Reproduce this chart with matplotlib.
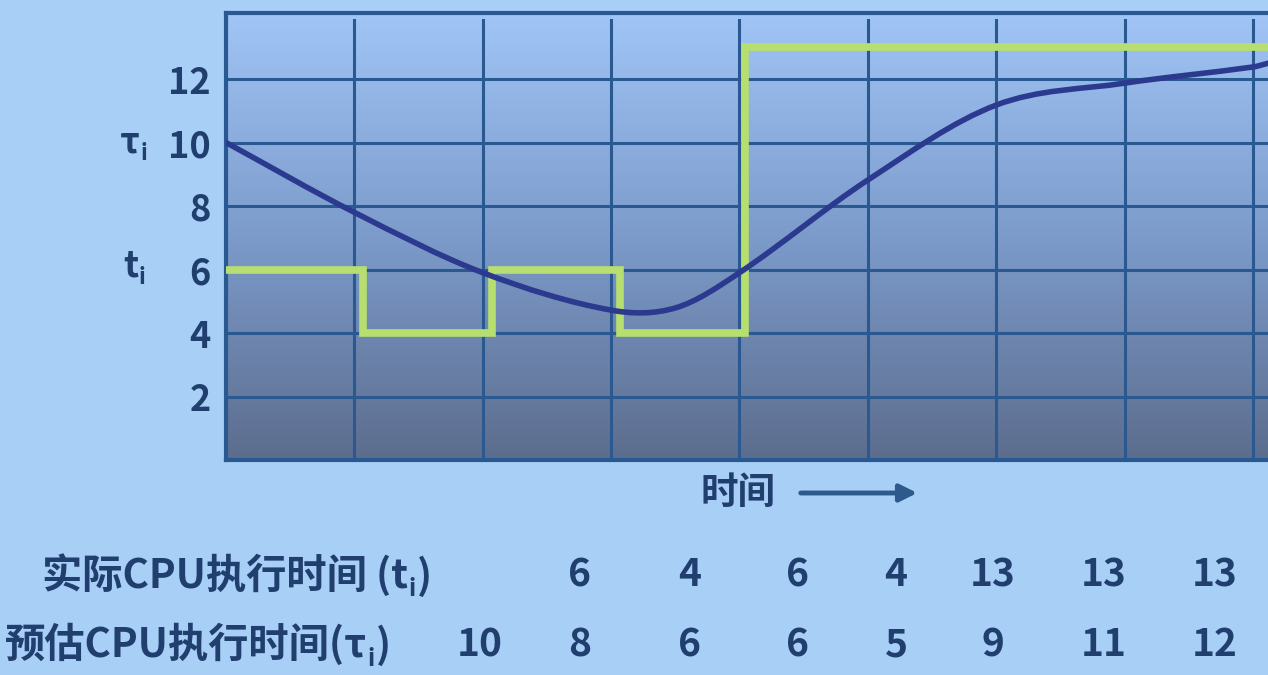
import numpy as np
import matplotlib
matplotlib.use('Agg')
from matplotlib import pyplot as plt
from matplotlib.path import Path
from matplotlib.patches import PathPatch, FancyArrowPatch
from matplotlib.colors import LinearSegmentedColormap

plt.rcParams['font.family'] = ['Noto Sans CJK SC', 'DejaVu Sans']
plt.rcParams['font.weight'] = 'bold'

# ---- data ----
# actual burst lengths t_i (green step line) and where each step starts
t_values = [6, 4, 6, 4, 13]
t_edges = [0, 1.07, 2.07, 3.07, 4.04, 8.2]

# predicted tau_i (blue smooth curve), sampled along the drawn curve
tau_x = [0, 1, 2, 3, 3.5, 4, 5, 6, 7, 8, 8.12]
tau_y = [10, 7.8, 5.9, 4.72, 4.79, 5.9, 8.82, 11.18, 11.87, 12.38, 12.5]

yticks = [2, 4, 6, 8, 10, 12]

# table under the chart
row_actual_label = '实际CPU执行时间 (t'
row_pred_label = '预估CPU执行时间(τ'
row_actual = ['', '6', '4', '6', '4', '13', '13', '13']
row_pred = ['10', '8', '6', '6', '5', '9', '11', '12']

# ---- styling ----
W, H = 1268, 675
fig_bg = '#a8cff6'
grid_col = '#2a5890'
text_col = '#213f6e'
green = '#b7df70'
navy = '#2b3a8e'
col_x = [480, 580, 690, 798, 896, 993, 1104, 1215]
fs = 26

fig = plt.figure(figsize=(W / 100, H / 100), dpi=100, facecolor=fig_bg)
ax = fig.add_axes([226 / W, 215 / H, 1 - 226 / W, 447 / H])
xmax, ymax = 8.117, 14.08

# gradient panel
cmap = LinearSegmentedColormap.from_list('panel', ['#5c6d8d', '#7c9bcb', '#a0c5f6'])
ax.imshow(np.linspace(0, 1, 256).reshape(-1, 1), cmap=cmap, origin='lower',
          extent=[0, xmax, 0, ymax], aspect='auto', zorder=0)

for v in range(1, 9):
    ax.axvline(v, ymax=0.985, color=grid_col, lw=2.2, zorder=1)
for v in yticks:
    ax.axhline(v, color=grid_col, lw=2.2, zorder=1)

# green step line
sx, sy = [], []
for i, v in enumerate(t_values):
    sx += [t_edges[i], t_edges[i + 1]]
    sy += [v, v]
ax.plot(sx, sy, color=green, lw=5.5, solid_joinstyle='miter', zorder=3)

# blue curve: cubic hermite segments drawn as a bezier path
xs = np.array(tau_x, dtype=float)
ys = np.array(tau_y, dtype=float)
m = np.zeros_like(ys)
m[0] = (ys[1] - ys[0]) / (xs[1] - xs[0])
m[-1] = (ys[-1] - ys[-2]) / (xs[-1] - xs[-2])
m[1:-1] = (ys[2:] - ys[:-2]) / (xs[2:] - xs[:-2])
verts = [(xs[0], ys[0])]
codes = [Path.MOVETO]
for i in range(len(xs) - 1):
    h = xs[i + 1] - xs[i]
    verts += [(xs[i] + h / 3, ys[i] + m[i] * h / 3),
              (xs[i + 1] - h / 3, ys[i + 1] - m[i + 1] * h / 3),
              (xs[i + 1], ys[i + 1])]
    codes += [Path.CURVE4] * 3
ax.add_patch(PathPatch(Path(verts, codes), fill=False, edgecolor=navy, lw=4,
                       capstyle='round', zorder=4))

ax.set_xlim(0, xmax)
ax.set_ylim(0, ymax)
ax.set_xticks([])
ax.set_yticks(yticks)
ax.set_yticklabels([str(v) for v in yticks], fontsize=fs, color=text_col)
ax.tick_params(axis='y', length=0, pad=11)
for s in ['left', 'top', 'bottom']:
    ax.spines[s].set_color(grid_col)
    ax.spines[s].set_linewidth(3)
ax.spines['right'].set_visible(False)

# overlay for free text
ov = fig.add_axes([0, 0, 1, 1], facecolor='none')
ov.set_xlim(0, W)
ov.set_ylim(H, 0)
ov.axis('off')

# axis symbols tau_i / t_i
ov.text(140, 142, 'τ', fontsize=fs, color=text_col, ha='right', va='center')
ov.text(141, 154, 'i', fontsize=16, color=text_col, ha='left', va='center')
ov.text(138, 266, 't', fontsize=fs, color=text_col, ha='right', va='center')
ov.text(139, 278, 'i', fontsize=16, color=text_col, ha='left', va='center')

# time arrow
ov.text(738, 492, '时间', fontsize=fs + 1, color=text_col, ha='center', va='center')
ov.add_patch(FancyArrowPatch((798, 493), (920, 493), arrowstyle='-|>',
                             mutation_scale=26, lw=3.5, color='#2c5a8c'))

# table rows
for label, row, y0, x0 in [(row_actual_label, row_actual, 575, 42),
                           (row_pred_label, row_pred, 645, 5)]:
    t1 = ov.text(x0, y0, label, fontsize=29, color=text_col, ha='left', va='center')
    t2 = ov.annotate('i', xy=(1, 0.18), xycoords=t1, fontsize=17, color=text_col,
                     ha='left', va='center')
    ov.annotate(')', xy=(1, 1.0), xycoords=t2, xytext=(1, 0), textcoords='offset points',
                fontsize=29, color=text_col, ha='left', va='center',
                annotation_clip=False)
    for xc, val in zip(col_x, row):
        ov.text(xc, y0, val, fontsize=28, color=text_col, ha='center', va='center')

fig.savefig('out.png', dpi=100, facecolor=fig_bg)
